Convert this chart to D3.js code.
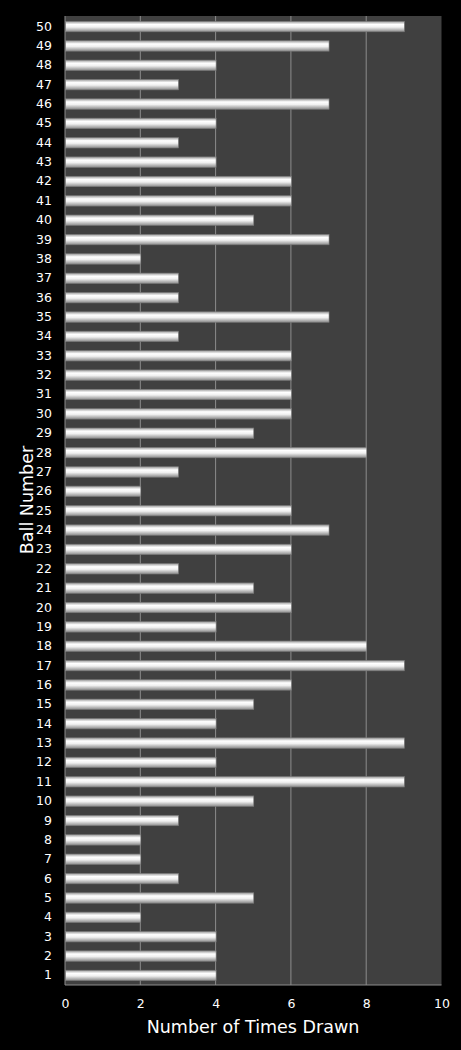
<!DOCTYPE html>
<html><head><meta charset="utf-8">
<script src="https://cdn.jsdelivr.net/npm/d3@7/dist/d3.min.js"></script>
<style>html,body{margin:0;padding:0;background:#000;}svg{display:block;}</style>
</head><body>
<script>
const balls = d3.range(1, 51);
const timesDrawn = [4,4,4,2,5,3,2,2,3,5,9,4,9,4,5,6,9,8,4,6,5,3,6,7,6,2,3,8,5,6,6,6,6,3,7,3,3,2,7,5,6,6,4,3,4,7,3,4,7,9];
const xTicks = [0,2,4,6,8,10];

const W = 461, H = 1050;
const m = {left: 65, right: 20, top: 16, bottom: 65};
const svg = d3.select("body").append("svg").attr("width", W).attr("height", H).style("background", "#000");
const defs = svg.append("defs");
const g = defs.append("linearGradient").attr("id", "barGrad").attr("x1", 0).attr("y1", 0).attr("x2", 0).attr("y2", 1);
[[0,"#9a9a9a"],[0.3,"#ffffff"],[0.55,"#f0f0f0"],[1,"#8a8a8a"]].forEach(([o,c]) => g.append("stop").attr("offset", o).attr("stop-color", c));

const x = d3.scaleLinear().domain([0, 10]).range([m.left, W - m.right + 0.5]);
const y = d3.scaleBand().domain(balls.slice().reverse()).range([m.top + 0.5, H - m.bottom + 0.5]).paddingInner(0.46).paddingOuter(0.25);

svg.append("rect").attr("x", x(0)).attr("y", m.top).attr("width", x(10) - x(0)).attr("height", H - m.bottom - m.top).attr("fill", "#404040");

svg.append("g").selectAll("line").data(xTicks.filter(t => t > 0 && t < 10)).join("line")
  .attr("x1", d => x(d)).attr("x2", d => x(d)).attr("y1", m.top).attr("y2", H - m.bottom)
  .attr("stroke", "#8c8c8c").attr("stroke-width", 1);

svg.append("g").selectAll("rect").data(balls).join("rect")
  .attr("x", x(0) + 0.5).attr("y", d => y(d))
  .attr("width", (d, i) => x(timesDrawn[i]) - x(0))
  .attr("height", y.bandwidth())
  .attr("fill", "url(#barGrad)").attr("stroke", "#7a7a7a").attr("stroke-width", 0.6);

svg.append("line").attr("x1", x(0)).attr("x2", x(0)).attr("y1", m.top).attr("y2", H - m.bottom).attr("stroke", "#8c8c8c");
svg.append("line").attr("x1", x(0)).attr("x2", x(10)).attr("y1", H - m.bottom).attr("y2", H - m.bottom).attr("stroke", "#8c8c8c");

const font = "Verdana, 'DejaVu Sans', sans-serif";
const yAxis = svg.append("g").attr("transform", `translate(${x(0)},0)`).call(d3.axisLeft(y).tickSize(0).tickPadding(13));
yAxis.select(".domain").remove();
yAxis.selectAll("text").attr("fill", "#fff").style("font-family", font).style("font-size", "12.5px");

const xAxis = svg.append("g").attr("transform", `translate(0,${H - m.bottom})`).call(d3.axisBottom(x).tickValues(xTicks).tickSize(0).tickPadding(14));
xAxis.select(".domain").remove();
xAxis.selectAll("text").attr("fill", "#fff").style("font-family", font).style("font-size", "12.5px");

svg.append("text").attr("x", 253).attr("y", 1033).attr("text-anchor", "middle").attr("fill", "#fff")
  .style("font-family", font).style("font-size", "17.5px").text("Number of Times Drawn");
svg.append("text").attr("transform", `translate(33,500) rotate(-90)`).attr("text-anchor", "middle").attr("fill", "#fff")
  .style("font-family", font).style("font-size", "17.5px").text("Ball Number");
</script>
</body></html>
